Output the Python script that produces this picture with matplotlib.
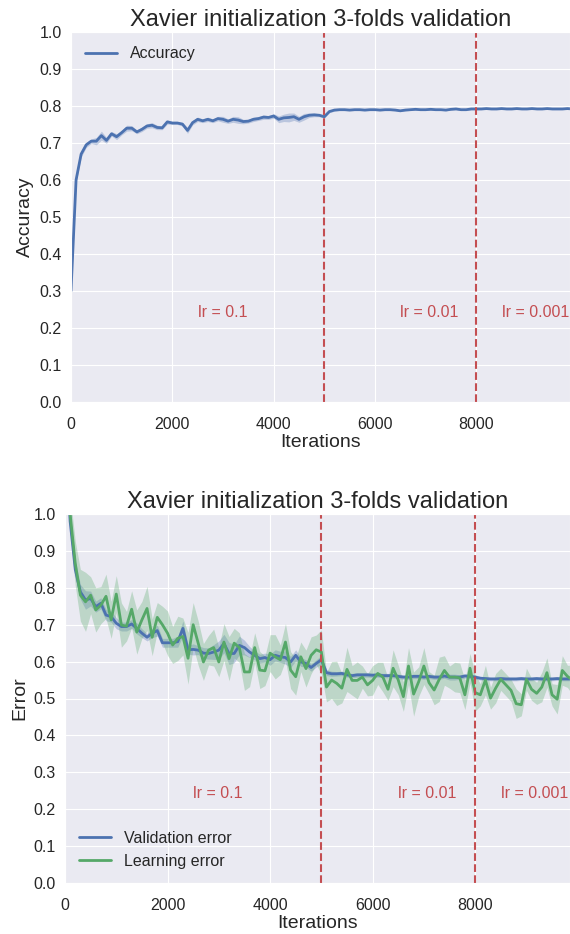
import numpy as np
import matplotlib
matplotlib.use("Agg")
import matplotlib.pyplot as plt
import seaborn as sns

# iterations (one sample every 100 iterations)
iters = np.arange(0, 10000, 100)

# top plot: accuracy mean and spread over the 3 folds
accuracy = [0.300, 0.600, 0.670, 0.695, 0.705, 0.705, 0.720, 0.707, 0.725, 0.717,
            0.728, 0.740, 0.740, 0.730, 0.737, 0.746, 0.748, 0.742, 0.741, 0.757,
            0.754, 0.754, 0.751, 0.734, 0.755, 0.764, 0.760, 0.764, 0.760, 0.766,
            0.764, 0.759, 0.764, 0.762, 0.758, 0.759, 0.764, 0.766, 0.770, 0.769,
            0.773, 0.764, 0.768, 0.769, 0.771, 0.764, 0.771, 0.775, 0.776, 0.775,
            0.771, 0.785, 0.789, 0.790, 0.790, 0.789, 0.790, 0.790, 0.789, 0.790,
            0.790, 0.789, 0.790, 0.790, 0.789, 0.787, 0.789, 0.790, 0.791, 0.790,
            0.790, 0.791, 0.790, 0.790, 0.789, 0.791, 0.792, 0.790, 0.790, 0.792,
            0.792, 0.792, 0.793, 0.792, 0.792, 0.793, 0.792, 0.792, 0.793, 0.792,
            0.792, 0.793, 0.792, 0.792, 0.793, 0.792, 0.792, 0.792, 0.793, 0.792]
accuracy_std = [0.004, 0.008, 0.008, 0.007, 0.006, 0.010, 0.012, 0.008, 0.006, 0.008,
                0.006, 0.008, 0.007, 0.005, 0.006, 0.006, 0.007, 0.006, 0.005, 0.006,
                0.004, 0.004, 0.005, 0.008, 0.006, 0.006, 0.005, 0.006, 0.005, 0.006,
                0.008, 0.006, 0.008, 0.009, 0.006, 0.005, 0.006, 0.005, 0.006, 0.005,
                0.006, 0.009, 0.010, 0.012, 0.010, 0.008, 0.009, 0.006, 0.005, 0.004,
                0.004, 0.003, 0.003, 0.002, 0.002, 0.002, 0.002, 0.002, 0.002, 0.002,
                0.002, 0.002, 0.002, 0.002, 0.002, 0.002, 0.002, 0.002, 0.002, 0.002,
                0.002, 0.002, 0.002, 0.002, 0.002, 0.002, 0.002, 0.002, 0.002, 0.002,
                0.002, 0.002, 0.002, 0.002, 0.002, 0.002, 0.002, 0.002, 0.002, 0.002,
                0.002, 0.002, 0.002, 0.002, 0.002, 0.002, 0.002, 0.002, 0.002, 0.002]

# bottom plot: validation error and learning error
val_error = [1.250, 0.980, 0.850, 0.789, 0.767, 0.771, 0.749, 0.758, 0.726, 0.722,
             0.704, 0.695, 0.695, 0.702, 0.690, 0.677, 0.666, 0.677, 0.684, 0.651,
             0.651, 0.651, 0.654, 0.690, 0.632, 0.633, 0.631, 0.623, 0.622, 0.626,
             0.631, 0.649, 0.622, 0.622, 0.644, 0.638, 0.626, 0.617, 0.608, 0.611,
             0.605, 0.617, 0.613, 0.611, 0.599, 0.617, 0.599, 0.595, 0.584, 0.595,
             0.605, 0.570, 0.567, 0.567, 0.568, 0.564, 0.562, 0.564, 0.564, 0.564,
             0.563, 0.564, 0.562, 0.562, 0.562, 0.560, 0.558, 0.558, 0.560, 0.560,
             0.558, 0.560, 0.558, 0.558, 0.561, 0.558, 0.558, 0.558, 0.561, 0.560,
             0.558, 0.555, 0.554, 0.553, 0.553, 0.554, 0.553, 0.553, 0.553, 0.554,
             0.553, 0.553, 0.554, 0.553, 0.553, 0.553, 0.554, 0.553, 0.553, 0.553]
val_error_std = [0.020, 0.020, 0.025, 0.020, 0.025, 0.020, 0.015, 0.015, 0.015, 0.015,
                 0.015, 0.012, 0.012, 0.012, 0.015, 0.012, 0.010, 0.012, 0.015, 0.012,
                 0.012, 0.012, 0.015, 0.020, 0.012, 0.015, 0.012, 0.015, 0.015, 0.020,
                 0.025, 0.025, 0.030, 0.025, 0.025, 0.020, 0.015, 0.012, 0.012, 0.012,
                 0.015, 0.015, 0.015, 0.018, 0.015, 0.015, 0.012, 0.010, 0.010, 0.010,
                 0.012, 0.008, 0.007, 0.006, 0.006, 0.006, 0.006, 0.006, 0.006, 0.006,
                 0.006, 0.006, 0.006, 0.006, 0.006, 0.006, 0.006, 0.006, 0.006, 0.006,
                 0.006, 0.006, 0.006, 0.006, 0.006, 0.008, 0.008, 0.006, 0.006, 0.006,
                 0.006, 0.005, 0.005, 0.005, 0.005, 0.005, 0.005, 0.005, 0.005, 0.005,
                 0.005, 0.005, 0.005, 0.005, 0.005, 0.005, 0.005, 0.005, 0.005, 0.005]
learn_error = [1.250, 1.000, 0.866, 0.780, 0.762, 0.780, 0.740, 0.753, 0.777, 0.713,
               0.783, 0.699, 0.696, 0.742, 0.680, 0.713, 0.744, 0.666, 0.720, 0.700,
               0.677, 0.645, 0.663, 0.668, 0.609, 0.700, 0.649, 0.599, 0.631, 0.638,
               0.599, 0.653, 0.608, 0.650, 0.638, 0.572, 0.572, 0.638, 0.577, 0.575,
               0.623, 0.613, 0.605, 0.653, 0.577, 0.559, 0.613, 0.581, 0.617, 0.632,
               0.626, 0.531, 0.550, 0.541, 0.528, 0.579, 0.549, 0.549, 0.558, 0.537,
               0.549, 0.568, 0.558, 0.525, 0.582, 0.550, 0.505, 0.588, 0.512, 0.546,
               0.588, 0.543, 0.523, 0.552, 0.576, 0.558, 0.558, 0.556, 0.510, 0.582,
               0.516, 0.510, 0.550, 0.501, 0.528, 0.552, 0.537, 0.522, 0.486, 0.483,
               0.552, 0.525, 0.514, 0.531, 0.570, 0.510, 0.498, 0.576, 0.560, 0.550]
learn_error_std = [0.050, 0.050, 0.060, 0.070, 0.080, 0.050, 0.060, 0.050, 0.060, 0.050,
                   0.050, 0.060, 0.040, 0.050, 0.060, 0.050, 0.060, 0.050, 0.040, 0.050,
                   0.060, 0.050, 0.060, 0.050, 0.070, 0.060, 0.060, 0.050, 0.040, 0.050,
                   0.040, 0.050, 0.060, 0.040, 0.040, 0.050, 0.040, 0.040, 0.050, 0.040,
                   0.050, 0.060, 0.040, 0.050, 0.050, 0.050, 0.040, 0.050, 0.050, 0.040,
                   0.060, 0.040, 0.050, 0.060, 0.040, 0.060, 0.040, 0.050, 0.030, 0.030,
                   0.040, 0.030, 0.040, 0.030, 0.050, 0.040, 0.040, 0.050, 0.060, 0.040,
                   0.050, 0.030, 0.040, 0.060, 0.040, 0.030, 0.040, 0.040, 0.040, 0.040,
                   0.050, 0.030, 0.040, 0.030, 0.040, 0.030, 0.030, 0.030, 0.040, 0.030,
                   0.030, 0.030, 0.030, 0.040, 0.040, 0.030, 0.040, 0.040, 0.030, 0.040]

# learning rate schedule
lr_steps = [5000, 8000]
lr_labels = ["lr = 0.1", "lr = 0.01", "lr = 0.001"]
lr_label_x = [2500, 6500, 8500]

title = "Xavier initialization 3-folds validation"
blue, green, red = "#4C72B0", "#55A868", "#C44E52"

sns.set_style("darkgrid")
plt.rcParams['font.family'] = ['Liberation Sans', 'DejaVu Sans']
plt.rcParams['text.color'] = '.15'
plt.rcParams['axes.labelcolor'] = '.15'
plt.rcParams['xtick.color'] = '.15'
plt.rcParams['ytick.color'] = '.15'

fig = plt.figure(figsize=(5.7, 9.34), dpi=100)
ax1 = fig.add_axes([71 / 570, 1 - 402 / 934, 499 / 570, 370 / 934])
ax2 = fig.add_axes([65 / 570, 1 - 883 / 934, 505 / 570, 369 / 934])

acc = np.array(accuracy)
acc_s = np.array(accuracy_std)
ax1.fill_between(iters, acc - acc_s, acc + acc_s, color=blue, alpha=0.3, lw=0)
ax1.plot(iters, acc, color=blue, lw=2.0, label="Accuracy")
ax1.set_ylabel("Accuracy", fontsize=14, labelpad=4)

ve = np.array(val_error)
ve_s = np.array(val_error_std)
le = np.array(learn_error)
le_s = np.array(learn_error_std)
ax2.fill_between(iters, ve - ve_s, ve + ve_s, color=blue, alpha=0.3, lw=0)
ax2.fill_between(iters, le - le_s, le + le_s, color=green, alpha=0.3, lw=0)
ax2.plot(iters, ve, color=blue, lw=2.0, label="Validation error")
ax2.plot(iters, le, color=green, lw=2.0, label="Learning error")
ax2.set_ylabel("Error", fontsize=14, labelpad=4)

for ax, loc in [(ax1, "upper left"), (ax2, "lower left")]:
    for s in lr_steps:
        ax.axvline(s, color=red, ls="--", lw=1.5)
    for xt, lab in zip(lr_label_x, lr_labels):
        ax.text(xt, 0.23, lab, color=red, fontsize=11.5)
    ax.set_xlim(0, 9850)
    ax.set_ylim(0, 1)
    ax.set_xticks([0, 2000, 4000, 6000, 8000])
    ax.set_yticks(np.arange(0, 1.01, 0.1))
    ax.set_yticklabels(["%.1f" % v for v in np.arange(0, 1.01, 0.1)])
    ax.tick_params(labelsize=11.5, length=1.5, width=1, pad=5)
    ax.tick_params(axis="x", pad=9)
    ax.set_xlabel("Iterations", fontsize=14, labelpad=2)
    ax.set_title(title, fontsize=17, pad=4)
    ax.legend(loc=loc, fontsize=11.5, frameon=False)

fig.savefig("out.png", dpi=100)
